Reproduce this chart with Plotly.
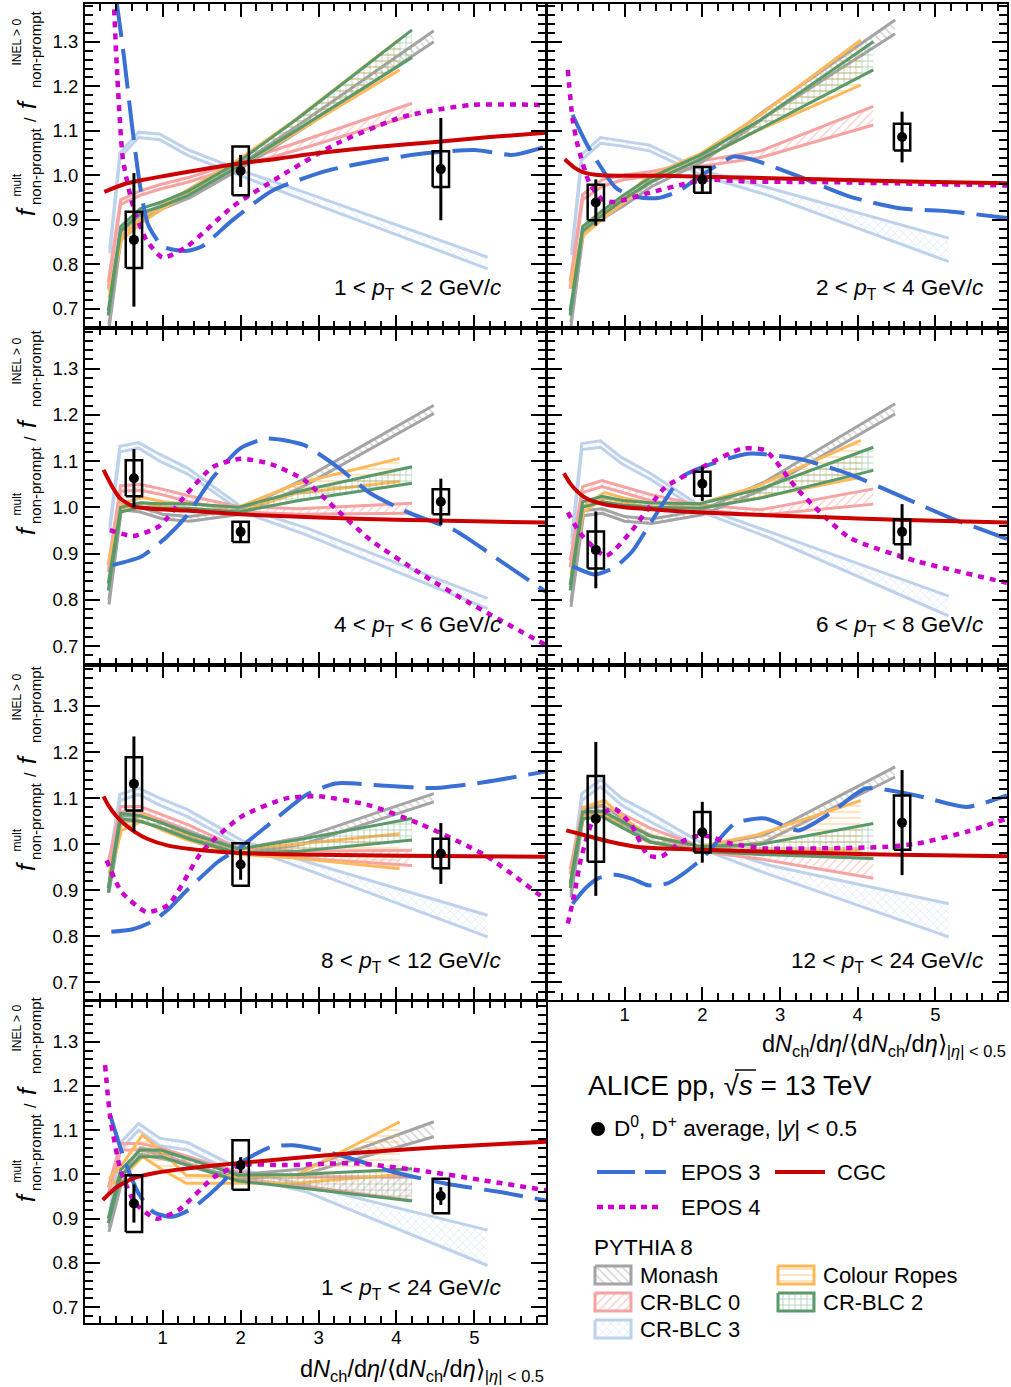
import plotly.graph_objects as go

W, H = 1011, 1387
FONT = "Liberation Sans, Arial, Helvetica, sans-serif"

# ---------------- measured data points ----------------
X_DATA = [0.63, 2.0, 4.57]
P1_Y = [0.855, 1.010, 1.014]; P1_STAT = [0.150, 0.036, 0.115]; P1_SYST = [0.063, 0.055, 0.040]
P2_Y = [0.939, 0.990, 1.086]; P2_STAT = [0.052, 0.027, 0.057]; P2_SYST = [0.040, 0.029, 0.030]
P3_Y = [1.063, 0.947, 1.012]; P3_STAT = [0.063, 0.020, 0.050]; P3_SYST = [0.039, 0.022, 0.027]
P4_Y = [0.908, 1.051, 0.947]; P4_STAT = [0.083, 0.037, 0.060]; P4_SYST = [0.040, 0.026, 0.027]
P5_Y = [1.131, 0.956, 0.980]; P5_STAT = [0.103, 0.033, 0.066]; P5_SYST = [0.058, 0.046, 0.032]
P6_Y = [1.055, 1.026, 1.047]; P6_STAT = [0.167, 0.066, 0.114]; P6_SYST = [0.093, 0.044, 0.059]
P7_Y = [0.934, 1.021, 0.951]; P7_STAT = [0.043, 0.018, 0.020]; P7_SYST = [0.064, 0.056, 0.039]

PT_LABELS = ["1 < <i>p</i><sub>T</sub> < 2 GeV/<i>c</i>", "2 < <i>p</i><sub>T</sub> < 4 GeV/<i>c</i>",
             "4 < <i>p</i><sub>T</sub> < 6 GeV/<i>c</i>", "6 < <i>p</i><sub>T</sub> < 8 GeV/<i>c</i>",
             "8 < <i>p</i><sub>T</sub> < 12 GeV/<i>c</i>", "12 < <i>p</i><sub>T</sub> < 24 GeV/<i>c</i>",
             "1 < <i>p</i><sub>T</sub> < 24 GeV/<i>c</i>"]
X_TICKS = [1, 2, 3, 4, 5]
Y_TICKS = [0.7, 0.8, 0.9, 1.0, 1.1, 1.2, 1.3]

# ---------------- PYTHIA 8 bands (x nodes, low / high edges) ----------------
MONASH_X = [0.31, 0.47, 0.71, 1.0, 1.35, 2.0, 2.8, 4.48]
CRBLC0_X = [0.30, 0.46, 0.71, 0.98, 1.33, 1.97, 2.75, 4.2]
CRBLC2_X = [0.30, 0.46, 0.71, 0.98, 1.33, 1.97, 2.75, 4.2]
ROPES_X = [0.31, 0.47, 0.74, 1.0, 1.3, 1.97, 2.7, 4.04]
CRBLC3_X = [0.32, 0.45, 0.69, 0.96, 1.32, 2.02, 2.85, 5.17]

P1_MONASH_LO = [0.655, 0.865, 0.90, 0.925, 0.95, 1.015, 1.105, 1.300]
P1_MONASH_HI = [0.665, 0.875, 0.91, 0.935, 0.96, 1.025, 1.120, 1.325]
P1_CRBLC0_LO = [0.745, 0.935, 0.955, 0.97, 0.985, 1.02, 1.058, 1.135]
P1_CRBLC0_HI = [0.760, 0.945, 0.965, 0.98, 0.995, 1.03, 1.075, 1.162]
P1_ROPES_LO = [0.725, 0.855, 0.895, 0.925, 0.955, 1.02, 1.095, 1.237]
P1_ROPES_HI = [0.740, 0.865, 0.905, 0.935, 0.965, 1.035, 1.125, 1.306]
P1_CRBLC2_LO = [0.685, 0.875, 0.915, 0.93, 0.955, 1.02, 1.105, 1.265]
P1_CRBLC2_HI = [0.695, 0.885, 0.925, 0.94, 0.965, 1.03, 1.130, 1.327]
P1_CRBLC3_LO = [0.825, 1.04, 1.085, 1.08, 1.045, 0.998, 0.942, 0.790]
P1_CRBLC3_HI = [0.835, 1.05, 1.097, 1.093, 1.058, 1.010, 0.960, 0.816]

P2_MONASH_LO = [0.66, 0.87, 0.902, 0.933, 0.975, 1.03, 1.13, 1.318]
P2_MONASH_HI = [0.67, 0.88, 0.912, 0.943, 0.985, 1.04, 1.145, 1.349]
P2_CRBLC0_LO = [0.745, 0.945, 0.975, 0.99, 0.998, 1.02, 1.04, 1.113]
P2_CRBLC0_HI = [0.760, 0.957, 0.990, 1.00, 1.008, 1.032, 1.055, 1.155]
P2_ROPES_LO = [0.745, 0.865, 0.905, 0.94, 0.985, 1.035, 1.10, 1.203]
P2_ROPES_HI = [0.760, 0.877, 0.917, 0.952, 0.997, 1.048, 1.13, 1.304]
P2_CRBLC2_LO = [0.685, 0.875, 0.91, 0.945, 0.985, 1.035, 1.105, 1.237]
P2_CRBLC2_HI = [0.695, 0.885, 0.92, 0.955, 0.995, 1.045, 1.125, 1.300]
P2_CRBLC3_LO = [0.82, 1.035, 1.072, 1.066, 1.055, 0.998, 0.955, 0.806]
P2_CRBLC3_HI = [0.83, 1.047, 1.085, 1.078, 1.068, 1.010, 0.972, 0.859]

P3_MONASH_LO = [0.79, 0.995, 0.99, 0.975, 0.97, 0.985, 1.045, 1.203]
P3_MONASH_HI = [0.80, 1.005, 1.00, 0.985, 0.98, 0.995, 1.060, 1.221]
P3_CRBLC0_LO = [0.86, 1.035, 1.037, 1.028, 1.012, 0.99, 0.985, 0.987]
P3_CRBLC0_HI = [0.875, 1.047, 1.05, 1.04, 1.025, 1.002, 0.997, 1.009]
P3_ROPES_LO = [0.875, 0.995, 1.01, 1.0, 0.998, 0.99, 1.03, 1.056]
P3_ROPES_HI = [0.885, 1.008, 1.022, 1.012, 1.008, 1.0, 1.05, 1.106]
P3_CRBLC2_LO = [0.82, 0.99, 1.0, 0.998, 0.998, 0.99, 1.015, 1.052]
P3_CRBLC2_HI = [0.835, 1.0, 1.01, 1.008, 1.008, 1.0, 1.035, 1.088]
P3_CRBLC3_LO = [0.95, 1.12, 1.128, 1.10, 1.072, 0.99, 0.94, 0.781]
P3_CRBLC3_HI = [0.96, 1.132, 1.14, 1.115, 1.085, 1.0, 0.955, 0.803]

P4_MONASH_LO = [0.785, 0.982, 0.987, 0.97, 0.965, 0.984, 1.04, 1.202]
P4_MONASH_HI = [0.795, 0.993, 0.997, 0.98, 0.975, 0.994, 1.055, 1.224]
P4_CRBLC0_LO = [0.87, 1.032, 1.045, 1.032, 1.015, 0.995, 0.983, 1.007]
P4_CRBLC0_HI = [0.885, 1.045, 1.058, 1.045, 1.028, 1.005, 0.995, 1.040]
P4_ROPES_LO = [0.84, 0.99, 1.02, 1.01, 1.0, 0.998, 1.02, 1.065]
P4_ROPES_HI = [0.855, 1.002, 1.032, 1.02, 1.01, 1.008, 1.045, 1.145]
P4_CRBLC2_LO = [0.82, 1.0, 1.012, 1.005, 1.0, 0.998, 1.02, 1.08]
P4_CRBLC2_HI = [0.832, 1.012, 1.024, 1.015, 1.01, 1.008, 1.04, 1.13]
P4_CRBLC3_LO = [0.92, 1.125, 1.13, 1.095, 1.062, 0.988, 0.935, 0.765]
P4_CRBLC3_HI = [0.935, 1.138, 1.144, 1.108, 1.075, 0.998, 0.948, 0.808]

P5_MONASH_LO = [0.895, 1.05, 1.05, 1.035, 1.015, 0.98, 1.0, 1.092]
P5_MONASH_HI = [0.905, 1.062, 1.062, 1.047, 1.027, 0.99, 1.015, 1.110]
P5_CRBLC0_LO = [0.95, 1.07, 1.07, 1.052, 1.03, 0.982, 0.97, 0.954]
P5_CRBLC0_HI = [0.96, 1.082, 1.082, 1.065, 1.042, 0.992, 0.985, 0.987]
P5_ROPES_LO = [0.925, 1.03, 1.05, 1.03, 1.01, 0.978, 0.97, 0.947]
P5_ROPES_HI = [0.935, 1.045, 1.065, 1.045, 1.022, 0.99, 1.0, 1.023]
P5_CRBLC2_LO = [0.895, 1.055, 1.05, 1.035, 1.012, 0.98, 0.985, 1.009]
P5_CRBLC2_HI = [0.905, 1.067, 1.062, 1.047, 1.024, 0.99, 1.01, 1.056]
P5_CRBLC3_LO = [0.955, 1.095, 1.108, 1.085, 1.06, 0.995, 0.945, 0.799]
P5_CRBLC3_HI = [0.968, 1.108, 1.122, 1.10, 1.075, 1.008, 0.962, 0.846]

P6_MONASH_LO = [0.885, 1.06, 1.07, 1.04, 1.005, 0.985, 1.005, 1.146]
P6_MONASH_HI = [0.895, 1.075, 1.085, 1.052, 1.017, 0.995, 1.020, 1.168]
P6_CRBLC0_LO = [0.935, 1.065, 1.068, 1.05, 1.02, 0.985, 0.968, 0.926]
P6_CRBLC0_HI = [0.945, 1.08, 1.082, 1.065, 1.035, 0.995, 0.98, 0.969]
P6_ROPES_LO = [0.92, 1.06, 1.065, 1.035, 1.005, 0.985, 0.985, 0.987]
P6_ROPES_HI = [0.935, 1.08, 1.095, 1.055, 1.02, 0.995, 1.02, 1.095]
P6_CRBLC2_LO = [0.905, 1.055, 1.06, 1.035, 1.005, 0.985, 0.978, 0.969]
P6_CRBLC2_HI = [0.915, 1.07, 1.072, 1.048, 1.018, 0.995, 1.0, 1.045]
P6_CRBLC3_LO = [0.93, 1.095, 1.125, 1.085, 1.05, 0.988, 0.935, 0.799]
P6_CRBLC3_HI = [0.945, 1.11, 1.14, 1.10, 1.068, 1.0, 0.955, 0.871]

P7_MONASH_LO = [0.87, 0.98, 1.045, 1.035, 1.02, 0.99, 1.0, 1.085]
P7_MONASH_HI = [0.88, 0.995, 1.06, 1.05, 1.035, 1.0, 1.012, 1.119]
P7_CRBLC0_LO = [0.955, 1.055, 1.055, 1.045, 1.025, 0.99, 0.975, 0.941]
P7_CRBLC0_HI = [0.97, 1.07, 1.07, 1.06, 1.04, 1.005, 0.995, 0.994]
P7_ROPES_LO = [0.975, 0.99, 1.04, 1.01, 0.98, 0.98, 0.98, 1.0]
P7_ROPES_HI = [0.99, 1.02, 1.089, 1.05, 0.998, 0.995, 0.997, 1.119]
P7_CRBLC2_LO = [0.89, 0.995, 1.04, 1.04, 1.02, 0.985, 0.97, 0.94]
P7_CRBLC2_HI = [0.90, 1.01, 1.055, 1.055, 1.035, 0.998, 1.0, 1.013]
P7_CRBLC3_LO = [0.905, 1.055, 1.1, 1.065, 1.055, 0.995, 0.96, 0.794]
P7_CRBLC3_HI = [0.915, 1.07, 1.115, 1.082, 1.072, 1.01, 0.975, 0.874]

# ---------------- EPOS 3 / EPOS 4 / CGC curves ----------------
P1_EPOS3_X = [0.40, 0.5, 0.6, 0.71, 0.81, 1.0, 1.3, 1.5, 1.9, 2.4, 3.1, 3.8, 4.4, 5.0, 5.5, 5.92]
P1_EPOS3_Y = [1.40, 1.27, 1.12, 0.975, 0.89, 0.84, 0.83, 0.84, 0.90, 0.965, 1.01, 1.035, 1.05, 1.057, 1.046, 1.065]
P1_EPOS4_X = [0.37, 0.41, 0.49, 0.62, 0.79, 1.0, 1.31, 1.9, 2.5, 3.24, 4.09, 4.95, 5.92]
P1_EPOS4_Y = [1.40, 1.245, 1.035, 0.93, 0.855, 0.815, 0.84, 0.93, 0.997, 1.072, 1.132, 1.158, 1.158]
P1_CGC_X = [0.25, 0.5, 0.75, 1.0, 1.5, 2.0, 2.5, 3.0, 3.7, 4.5, 5.2, 5.92]
P1_CGC_Y = [0.963, 0.98, 0.99, 0.998, 1.013, 1.027, 1.038, 1.05, 1.063, 1.075, 1.086, 1.096]

P2_EPOS3_X = [0.33, 0.53, 0.87, 1.0, 1.2, 1.43, 1.7, 1.99, 2.4, 2.65, 3.25, 3.9, 4.54, 5.18, 5.92]
P2_EPOS3_Y = [1.136, 1.065, 0.975, 0.96, 0.95, 0.949, 0.965, 1.0, 1.042, 1.035, 0.997, 0.952, 0.926, 0.919, 0.904]
P2_EPOS4_X = [0.27, 0.33, 0.40, 0.55, 0.72, 0.87, 1.3, 1.73, 2.05, 2.6, 3.5, 4.5, 5.92]
P2_EPOS4_Y = [1.237, 1.128, 1.065, 0.982, 0.945, 0.94, 0.96, 0.979, 0.99, 0.986, 0.985, 0.982, 0.977]
P2_CGC_X = [0.23, 0.35, 0.48, 0.7, 1.0, 1.5, 2.0, 3.0, 4.0, 5.0, 5.92]
P2_CGC_Y = [1.036, 1.018, 1.006, 1.0, 0.999, 0.999, 0.997, 0.993, 0.989, 0.985, 0.982]

P3_EPOS3_X = [0.36, 0.72, 1.05, 1.3, 1.65, 2.0, 2.34, 2.81, 3.24, 3.67, 4.18, 4.74, 5.38, 5.92]
P3_EPOS3_Y = [0.875, 0.893, 0.936, 0.98, 1.066, 1.128, 1.149, 1.135, 1.088, 1.03, 0.987, 0.951, 0.879, 0.817]
P3_EPOS4_X = [0.32, 0.62, 0.96, 1.31, 1.65, 2.0, 2.38, 2.81, 3.24, 3.67, 4.31, 4.95, 5.92]
P3_EPOS4_Y = [0.951, 0.938, 0.96, 1.03, 1.088, 1.105, 1.094, 1.06, 0.994, 0.929, 0.857, 0.792, 0.702]
P3_CGC_X = [0.24, 0.35, 0.45, 0.62, 0.85, 1.3, 2.0, 3.0, 4.0, 5.0, 5.92]
P3_CGC_Y = [1.081, 1.045, 1.02, 1.002, 0.997, 0.993, 0.985, 0.978, 0.973, 0.97, 0.967]

P4_EPOS3_X = [0.33, 0.61, 0.87, 1.1, 1.3, 1.5, 1.73, 2.0, 2.59, 3.24, 3.89, 4.58, 5.18, 5.92]
P4_EPOS3_Y = [0.873, 0.855, 0.87, 0.905, 0.957, 1.01, 1.065, 1.087, 1.116, 1.105, 1.072, 1.022, 0.978, 0.932]
P4_EPOS4_X = [0.27, 0.44, 0.76, 1.09, 1.52, 2.0, 2.51, 2.81, 3.24, 3.89, 4.75, 5.92]
P4_EPOS4_Y = [0.989, 0.942, 0.895, 0.949, 1.043, 1.087, 1.127, 1.123, 1.036, 0.935, 0.884, 0.837]
P4_CGC_X = [0.22, 0.3, 0.4, 0.5, 0.7, 1.0, 1.5, 2.0, 3.0, 4.0, 5.0, 5.92]
P4_CGC_Y = [1.074, 1.052, 1.033, 1.02, 1.008, 1.0, 0.994, 0.989, 0.982, 0.976, 0.971, 0.967]

P5_EPOS3_X = [0.34, 0.6, 0.86, 1.08, 1.29, 1.5, 1.71, 2.0, 2.4, 2.83, 3.22, 3.86, 4.5, 5.14, 5.92]
P5_EPOS3_Y = [0.81, 0.815, 0.832, 0.86, 0.897, 0.93, 0.962, 0.994, 1.048, 1.106, 1.132, 1.127, 1.122, 1.135, 1.158]
P5_EPOS4_X = [0.28, 0.47, 0.79, 1.07, 1.5, 2.0, 2.57, 3.0, 3.64, 4.29, 5.14, 5.92]
P5_EPOS4_Y = [0.965, 0.897, 0.853, 0.868, 0.983, 1.059, 1.099, 1.104, 1.085, 1.045, 0.976, 0.879]
P5_CGC_X = [0.24, 0.3, 0.4, 0.5, 0.64, 0.8, 1.07, 1.5, 2.0, 3.0, 4.0, 5.0, 5.92]
P5_CGC_Y = [1.104, 1.085, 1.062, 1.045, 1.027, 1.012, 0.997, 0.987, 0.981, 0.977, 0.975, 0.974, 0.973]

P6_EPOS3_X = [0.33, 0.5, 0.66, 0.87, 1.1, 1.3, 1.55, 1.73, 2.0, 2.42, 2.81, 3.24, 3.67, 4.1, 4.75, 5.4, 5.92]
P6_EPOS3_Y = [0.871, 0.905, 0.926, 0.934, 0.925, 0.911, 0.915, 0.933, 0.969, 1.045, 1.056, 1.03, 1.07, 1.121, 1.106, 1.081, 1.106]
P6_EPOS4_X = [0.27, 0.35, 0.44, 0.61, 0.87, 1.09, 1.3, 1.47, 1.73, 2.0, 2.38, 2.81, 3.46, 4.32, 4.75, 5.4, 5.92]
P6_EPOS4_Y = [0.828, 0.889, 0.969, 1.056, 1.077, 1.041, 0.976, 0.973, 1.005, 1.02, 1.001, 0.991, 0.991, 0.994, 1.001, 1.027, 1.056]
P6_CGC_X = [0.25, 0.5, 0.8, 1.17, 1.6, 2.0, 3.0, 4.0, 5.0, 5.92]
P6_CGC_Y = [1.03, 1.019, 1.006, 0.994, 0.99, 0.988, 0.983, 0.979, 0.976, 0.974]

P7_EPOS3_X = [0.325, 0.51, 0.69, 0.88, 1.11, 1.38, 1.75, 1.99, 2.39, 2.67, 3.03, 3.49, 3.95, 4.64, 5.33, 5.92]
P7_EPOS3_Y = [1.134, 1.032, 0.957, 0.915, 0.904, 0.923, 0.979, 1.025, 1.062, 1.066, 1.055, 1.032, 1.006, 0.979, 0.96, 0.941]
P7_EPOS4_X = [0.26, 0.325, 0.46, 0.65, 0.92, 1.2, 1.66, 1.99, 2.58, 3.49, 4.41, 5.1, 5.92]
P7_EPOS4_Y = [1.247, 1.13, 1.009, 0.934, 0.9, 0.919, 0.994, 1.021, 1.021, 1.025, 1.006, 0.987, 0.964]
P7_CGC_X = [0.23, 0.4, 0.62, 0.9, 1.3, 2.0, 2.7, 3.5, 4.5, 5.92]
P7_CGC_Y = [0.942, 0.97, 0.991, 1.003, 1.013, 1.026, 1.037, 1.049, 1.061, 1.074]

# ---------------- styles ----------------
C_MONASH = "#a4a4a4"
C_CRBLC0 = "#f5a3a3"
C_CRBLC3 = "#bed2ec"
C_ROPES = "#ffb95c"
C_CRBLC2 = "#5a9a6a"
C_EPOS3 = "#3a6fd4"
C_EPOS4 = "#cc00cc"
C_CGC = "#cc0000"
BOX_HW = 0.105

COLS = [(85, 546), (547, 1007)]
ROWS = [(4, 328), (328, 665), (665, 1000), (1001, 1323)]
YRANGES = [(0.657, 1.385), (0.659, 1.388), (0.662, 1.389), (0.664, 1.392)]
XRANGE = (0.002, 5.92)

g = globals()
PANELS = []
for i, (r, c) in enumerate([(0, 0), (0, 1), (1, 0), (1, 1), (2, 0), (2, 1), (3, 0)]):
    p = "P%d_" % (i + 1)
    PANELS.append(dict(
        n=i + 1, row=r, col=c, label=PT_LABELS[i],
        y=g[p + "Y"], stat=g[p + "STAT"], syst=g[p + "SYST"],
        bands=[(CRBLC3_X, g[p + "CRBLC3_LO"], g[p + "CRBLC3_HI"], C_CRBLC3, "x"),
               (CRBLC0_X, g[p + "CRBLC0_LO"], g[p + "CRBLC0_HI"], C_CRBLC0, "/"),
               (MONASH_X, g[p + "MONASH_LO"], g[p + "MONASH_HI"], C_MONASH, "\\"),
               (ROPES_X, g[p + "ROPES_LO"], g[p + "ROPES_HI"], C_ROPES, "-"),
               (CRBLC2_X, g[p + "CRBLC2_LO"], g[p + "CRBLC2_HI"], C_CRBLC2, "+")],
        epos3=(g[p + "EPOS3_X"], g[p + "EPOS3_Y"]),
        epos4=(g[p + "EPOS4_X"], g[p + "EPOS4_Y"]),
        cgc=(g[p + "CGC_X"], g[p + "CGC_Y"]),
    ))

fig = go.Figure()
layout = dict(width=W, height=H, margin=dict(l=0, r=0, t=0, b=0), autosize=False,
              paper_bgcolor="white", plot_bgcolor="rgba(0,0,0,0)", showlegend=False,
              font=dict(family=FONT, color="black", size=18))
annotations = []
shapes = []


def axnames(n):
    return ("x" if n == 1 else "x%d" % n), ("y" if n == 1 else "y%d" % n)


def pattern(shape, color):
    return dict(shape=shape, fgcolor=color, bgcolor="rgba(0,0,0,0)", size=6, solidity=0.25)


for P in PANELS:
    n = P["n"]
    xa, ya = axnames(n)
    x0, x1 = COLS[P["col"]]
    y0, y1 = ROWS[P["row"]]
    yr = YRANGES[P["row"]]
    showx = n in (6, 7)
    showy = P["col"] == 0
    common = dict(showline=True, linecolor="black", linewidth=2, mirror="allticks",
                  ticks="inside", tickcolor="black", tickwidth=1.5, showgrid=False,
                  zeroline=False, tickfont=dict(family=FONT, size=18.5, color="black"),
                  fixedrange=True)
    layout["xaxis" if n == 1 else "xaxis%d" % n] = dict(
        common, domain=[x0 / W, x1 / W], range=list(XRANGE), anchor=ya,
        tickmode="array", tickvals=X_TICKS, ticktext=[str(v) for v in X_TICKS],
        ticklen=13, showticklabels=showx, ticklabelstandoff=-3,
        minor=dict(ticks="inside", ticklen=7, tickwidth=1.5, tickcolor="black",
                   tickmode="linear", tick0=0, dtick=0.2, showgrid=False))
    layout["yaxis" if n == 1 else "yaxis%d" % n] = dict(
        common, domain=[1 - y1 / H, 1 - y0 / H], range=list(yr), anchor=xa,
        tickmode="array", tickvals=Y_TICKS, ticktext=["%.1f" % v for v in Y_TICKS],
        ticklen=15, showticklabels=showy, ticklabelstandoff=1,
        minor=dict(ticks="inside", ticklen=8, tickwidth=1.5, tickcolor="black",
                   tickmode="linear", tick0=0, dtick=0.02, showgrid=False))

    # PYTHIA bands
    for bx, lo, hi, col, shp in P["bands"]:
        fig.add_trace(go.Scatter(x=bx, y=lo, mode="lines", line=dict(color=col, width=3),
                                 xaxis=xa, yaxis=ya, hoverinfo="skip"))
        fig.add_trace(go.Scatter(x=bx, y=hi, mode="lines", line=dict(color=col, width=3),
                                 fill="tonexty", fillcolor="rgba(0,0,0,0)",
                                 fillpattern=pattern(shp, col),
                                 xaxis=xa, yaxis=ya, hoverinfo="skip"))
    # EPOS 3, EPOS 4, CGC
    fig.add_trace(go.Scatter(x=P["epos3"][0], y=P["epos3"][1], mode="lines",
                             line=dict(color=C_EPOS3, width=4, dash="40px,12px", shape="spline", smoothing=0.6),
                             xaxis=xa, yaxis=ya, hoverinfo="skip"))
    fig.add_trace(go.Scatter(x=P["epos4"][0], y=P["epos4"][1], mode="lines",
                             line=dict(color=C_EPOS4, width=4.5, dash="6px,6px", shape="spline", smoothing=0.6),
                             xaxis=xa, yaxis=ya, hoverinfo="skip"))
    fig.add_trace(go.Scatter(x=P["cgc"][0], y=P["cgc"][1], mode="lines",
                             line=dict(color=C_CGC, width=4, shape="spline", smoothing=0.6),
                             xaxis=xa, yaxis=ya, hoverinfo="skip"))
    # systematic boxes
    bxs, bys = [], []
    for xv, yv, sv in zip(X_DATA, P["y"], P["syst"]):
        bxs += [xv - BOX_HW, xv + BOX_HW, xv + BOX_HW, xv - BOX_HW, xv - BOX_HW, None]
        bys += [yv - sv, yv - sv, yv + sv, yv + sv, yv - sv, None]
    fig.add_trace(go.Scatter(x=bxs, y=bys, mode="lines", line=dict(color="black", width=2.5),
                             xaxis=xa, yaxis=ya, hoverinfo="skip"))
    # data with statistical errors
    fig.add_trace(go.Scatter(x=X_DATA, y=P["y"], mode="markers",
                             marker=dict(color="black", size=10),
                             error_y=dict(type="data", array=P["stat"], color="black", thickness=3, width=0),
                             xaxis=xa, yaxis=ya, hoverinfo="skip"))

# overlay axis in pixel coordinates (for annotations / legend)
layout["xaxis8"] = dict(domain=[0, 1], range=[0, W], visible=False, fixedrange=True, anchor="y8")
layout["yaxis8"] = dict(domain=[0, 1], range=[H, 0], visible=False, fixedrange=True, anchor="x8")


def text(x, y, s, size, xanchor="left", yanchor="middle", angle=0, **kw):
    annotations.append(dict(x=x, y=y, xref="x8", yref="y8", text=s, showarrow=False,
                            xanchor=xanchor, yanchor=yanchor, textangle=angle,
                            font=dict(family=FONT, size=size, color="black"), **kw))


# pT labels
PT_POS = [(503, 289), (985, 289), (503, 626), (985, 626), (503, 962), (985, 962), (503, 1289)]
for P, (px, py) in zip(PANELS, PT_POS):
    text(px, py, P["label"], 22.5, xanchor="right")

# y-axis titles
for yf in [211, 530, 866, 1197]:
    text(26, yf, "<i>f</i>", 25, xanchor="center", yanchor="middle", angle=-90)
    text(16, yf - 12, "mult", 12, xanchor="center", yanchor="bottom", angle=-90)
    text(35, yf - 4, "non-prompt", 15, xanchor="center", yanchor="bottom", angle=-90)
    text(30, yf - 91, "/", 16, xanchor="center", yanchor="middle", angle=-90)
    text(27, yf - 107, "<i>f</i>", 25, xanchor="center", yanchor="middle", angle=-90)
    text(16, yf - 143, "INEL > 0", 12, xanchor="center", yanchor="bottom", angle=-90)
    text(35, yf - 121, "non-prompt", 15, xanchor="center", yanchor="bottom", angle=-90)

# x-axis titles
XT = "d<i>N</i><sub>ch</sub>/d<i>η</i>/⟨d<i>N</i><sub>ch</sub>/d<i>η</i>⟩<sub>|<i>η</i>| < 0.5</sub>"
text(546, 1387, XT, 23.5, xanchor="right", yanchor="bottom")
text(1008, 1062, XT, 23.5, xanchor="right", yanchor="bottom")

# legend block
text(586, 1085, "ALICE pp, √<i>s</i> = 13 TeV", 28)
shapes.append(dict(type="line", xref="x8", yref="y8", x0=735, x1=756, y0=1070, y1=1070,
                   line=dict(color="black", width=1.5)))
fig.add_trace(go.Scatter(x=[598], y=[1129], mode="markers", marker=dict(color="black", size=14),
                         xaxis="x8", yaxis="y8", hoverinfo="skip"))
text(612, 1127, "D<sup>0</sup>, D<sup>+</sup> average, |<i>y</i>| < 0.5", 22.5)
fig.add_trace(go.Scatter(x=[597, 666], y=[1172, 1172], mode="lines",
                         line=dict(color=C_EPOS3, width=4, dash="38px,10px"), xaxis="x8", yaxis="y8"))
text(679, 1172, "EPOS 3", 22)
fig.add_trace(go.Scatter(x=[775, 825], y=[1172, 1172], mode="lines",
                         line=dict(color=C_CGC, width=4), xaxis="x8", yaxis="y8"))
text(835, 1172, "CGC", 22)
fig.add_trace(go.Scatter(x=[597, 662], y=[1207, 1207], mode="lines",
                         line=dict(color=C_EPOS4, width=4.5, dash="6px,5px"), xaxis="x8", yaxis="y8"))
text(679, 1207, "EPOS 4", 22)
text(592, 1247, "PYTHIA 8", 22.5)

LEG_BOXES = [(595, 1266, C_MONASH, "\\", "Monash"), (778, 1266, C_ROPES, "-", "Colour Ropes"),
             (595, 1293, C_CRBLC0, "/", "CR-BLC 0"), (778, 1293, C_CRBLC2, "+", "CR-BLC 2"),
             (595, 1320, C_CRBLC3, "x", "CR-BLC 3")]
for bx, by, col, shp, name in LEG_BOXES:
    fig.add_trace(go.Scatter(x=[bx, bx + 36, bx + 36, bx, bx], y=[by, by, by + 18, by + 18, by],
                             mode="lines", line=dict(color=col, width=3), fill="toself",
                             fillcolor="rgba(0,0,0,0)", fillpattern=pattern(shp, col),
                             xaxis="x8", yaxis="y8", hoverinfo="skip"))
    text(bx + 43, by + 9, name, 22)

layout["annotations"] = annotations
layout["shapes"] = shapes
fig.update_layout(**layout)
fig.write_html("out.html", config={"displayModeBar": False},
               post_script="document.body.style.margin='0';document.body.style.overflow='hidden';")
